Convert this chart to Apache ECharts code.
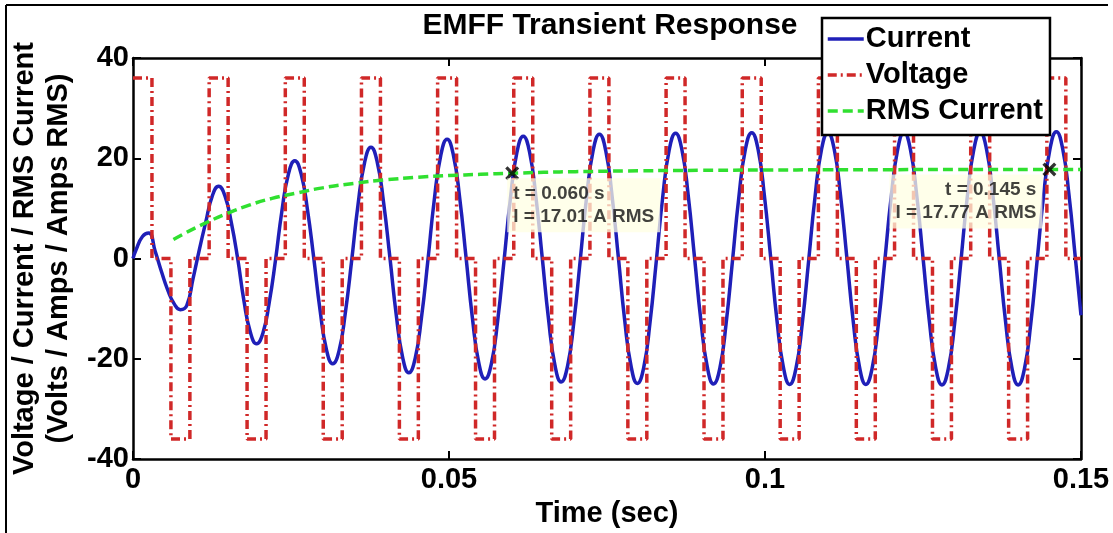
<!DOCTYPE html>
<html><head><meta charset="utf-8">
<script src="https://cdn.jsdelivr.net/npm/echarts@6/dist/echarts.min.js"></script>
<style>html,body{margin:0;padding:0;background:#fff}#c{width:1113px;height:533px}</style>
</head><body><div id="c"></div><script>
// ---- data ----
const currentT = [
0, 0.0005, 0.0015, 0.0025, 0.0035, 0.0045, 0.0055, 0.0065, 0.0075, 0.0085, 0.0095, 0.0105, 0.0115,
0.01255, 0.01355, 0.01455, 0.01555, 0.01655, 0.01755, 0.01855, 0.01955, 0.02055, 0.02155, 0.02255, 0.02355,
0.0246, 0.0256, 0.0266, 0.0276, 0.0286, 0.0296, 0.0306, 0.0316, 0.0326, 0.0336, 0.0346, 0.0356,
0.03665, 0.03765, 0.03865, 0.03965, 0.04065, 0.04165, 0.04265, 0.04365, 0.04465, 0.04565, 0.04665, 0.04765,
0.0487, 0.0497, 0.0507, 0.0517, 0.0527, 0.0537, 0.0547, 0.0557, 0.0567, 0.0577, 0.0587, 0.0597,
0.06075, 0.06175, 0.06275, 0.06375, 0.06475, 0.06575, 0.06675, 0.06775, 0.06875, 0.06975, 0.07075, 0.07175,
0.0728, 0.0738, 0.0748, 0.0758, 0.0768, 0.0778, 0.0788, 0.0798, 0.0808, 0.0818, 0.0828, 0.0838,
0.08485, 0.08585, 0.08685, 0.08785, 0.08885, 0.08985, 0.09085, 0.09185, 0.09285, 0.09385, 0.09485, 0.09585,
0.0969, 0.0979, 0.0989, 0.0999, 0.1009, 0.1019, 0.1029, 0.1039, 0.1049, 0.1059, 0.1069, 0.1079,
0.10895, 0.10995, 0.11095, 0.11195, 0.11295, 0.11395, 0.11495, 0.11595, 0.11695, 0.11795, 0.11895, 0.11995,
0.121, 0.122, 0.123, 0.124, 0.125, 0.126, 0.127, 0.128, 0.129, 0.130, 0.131, 0.132,
0.13305, 0.13405, 0.13505, 0.13605, 0.13705, 0.13805, 0.13905, 0.14005, 0.14105, 0.14205, 0.14305, 0.14405,
0.1451, 0.1461, 0.1471, 0.1481, 0.1491, 0.15];
const currentI = [
0, 1.8, 4.4, 5.1, 1.5, -2.6, -6.3, -9.0, -10.2, -9.4, -4.0, 1.8, 7.2,
12.5, 14.4, 12.5, 7.2, 0.1, -8.4, -14.6, -17.0, -14.9, -8.8, -0.3, 9.4,
16.9, 19.5, 16.9, 9.8, 0.1, -10.3, -18.1, -21.0, -18.4, -10.8, -0.4, 10.7,
19.2, 22.2, 19.2, 11.2, 0.2, -11.2, -19.6, -22.8, -19.9, -11.7, -0.5, 11.5,
20.6, 23.8, 20.6, 12.0, 0.2, -11.8, -20.7, -24.0, -21.0, -12.4, -0.5, 11.8,
21.2, 24.4, 21.2, 12.3, 0.2, -12.1, -21.2, -24.6, -21.5, -12.7, -0.5, 12.0,
21.5, 24.8, 21.5, 12.5, 0.2, -12.3, -21.4, -24.9, -21.8, -12.8, -0.5, 12.1,
21.7, 25.0, 21.7, 12.6, 0.2, -12.3, -21.5, -25.0, -21.9, -12.9, -0.5, 12.1,
21.8, 25.1, 21.8, 12.6, 0.2, -12.4, -21.6, -25.1, -21.9, -12.9, -0.5, 12.1,
21.8, 25.1, 21.8, 12.6, 0.2, -12.4, -21.6, -25.1, -21.9, -12.9, -0.5, 12.1,
21.8, 25.2, 21.8, 12.7, 0.2, -12.4, -21.7, -25.2, -22.0, -13.0, -0.5, 12.2,
21.8, 25.2, 21.8, 12.7, 0.2, -12.4, -21.7, -25.2, -22.0, -13.0, -0.5, 12.2,
21.9, 25.3, 21.9, 12.7, 0.2, -11.3];

const voltT = [
0, 0.003, 0.006, 0.009,
0.01205, 0.01505, 0.01805, 0.02105,
0.0241, 0.0271, 0.0301, 0.0331,
0.03615, 0.03915, 0.04215, 0.04515,
0.0482, 0.0512, 0.0542, 0.0572,
0.06025, 0.06325, 0.06625, 0.06925,
0.0723, 0.0753, 0.0783, 0.0813,
0.08435, 0.08735, 0.09035, 0.09335,
0.0964, 0.0994, 0.1024, 0.1054,
0.10845, 0.11145, 0.11445, 0.11745,
0.1205, 0.1235, 0.1265, 0.1295,
0.13255, 0.13555, 0.13855, 0.14155,
0.1446, 0.1476, 0.15];
const voltV = [
36, 0, -36, 0,
36, 0, -36, 0,
36, 0, -36, 0,
36, 0, -36, 0,
36, 0, -36, 0,
36, 0, -36, 0,
36, 0, -36, 0,
36, 0, -36, 0,
36, 0, -36, 0,
36, 0, -36, 0,
36, 0, -36, 0,
36, 0, -36, 0,
36, 0, 0];

const rmsT = [0.0064, 0.008, 0.010, 0.012, 0.0145, 0.0185, 0.022, 0.026, 0.030, 0.035, 0.040, 0.045, 0.050, 0.055, 0.060, 0.065, 0.070, 0.080, 0.090, 0.100, 0.110, 0.120, 0.130, 0.145, 0.150];
const rmsI = [3.8, 4.9, 6.2, 7.4, 8.8, 10.7, 12.0, 13.1, 14.1, 15.0, 15.7, 16.2, 16.55, 16.8, 17.01, 17.2, 17.33, 17.5, 17.6, 17.66, 17.7, 17.73, 17.75, 17.77, 17.78];

const tipT = [0.060, 0.145];
const tipI = [17.01, 17.77];

const seriesNames = ['Current', 'Voltage', 'RMS Current'];
const titleText = 'EMFF Transient Response';
const xName = 'Time (sec)';
const yName = 'Voltage / Current / RMS Current\n(Volts / Amps / Amps RMS)';

// ---- chart ----
const FONT = '"Liberation Sans", Arial, Helvetica, sans-serif';
const zip = (a, b) => a.map((x, i) => [x, b[i]]);
const chart = echarts.init(document.getElementById('c'), null, {renderer: 'canvas'});
const axLine = {show: true, onZero: false, lineStyle: {color: '#000', width: 2.5}};
const tick = {show: true, inside: true, length: 8, lineStyle: {color: '#000', width: 2}};
const lblFont = {fontFamily: FONT, fontSize: 29, fontWeight: 'bold', color: '#000'};
const XPATH = 'path://M2,0 L6,4 L10,0 L12,2 L8,6 L12,10 L10,12 L6,8 L2,12 L0,10 L4,6 L0,2 Z';
const tipLabel = {
  show: true,
  formatter: p => 't = ' + p.value[0].toFixed(3) + ' s\nI = ' + p.value[1].toFixed(2) + ' A RMS',
  fontFamily: FONT, fontSize: 19, fontWeight: 'bold', color: '#111', lineHeight: 23,
  backgroundColor: 'rgba(255,255,226,0.92)', padding: [4, 6, 4, 6],
  verticalAlign: 'top'
};
const BLUE = '#1f1fb8', RED = '#d02828', GREEN = '#30e030';

const option = {
  animation: false,
  backgroundColor: '#fff',
  title: {text: titleText, left: 605, top: 6, textAlign: 'center',
    textStyle: {fontFamily: FONT, fontSize: 30, fontWeight: 'bold', color: '#000'}},
  legend: {
    orient: 'vertical', left: 822, top: 18, data: seriesNames,
    backgroundColor: '#fff', borderColor: '#000', borderWidth: 2.5, borderRadius: 0,
    padding: [5, 7, 8, 4], itemWidth: 36, itemHeight: 14, itemGap: 4, z: 10,
    itemStyle: {color: 'rgba(0,0,0,0)', borderWidth: 0, opacity: 0},
    lineStyle: {width: 3.5},
    textStyle: {fontFamily: FONT, fontSize: 29, fontWeight: 'bold', color: '#000', lineHeight: 32, padding: [0, 0, 0, -3]}
  },
  grid: {left: 133, right: 32, top: 58, bottom: 69, containLabel: false},
  xAxis: [
    {type: 'value', min: 0, max: 0.15, interval: 0.05, position: 'bottom',
     axisLine: axLine, axisTick: tick, splitLine: {show: false},
     axisLabel: Object.assign({margin: 6, formatter: v => String(+v.toFixed(2))}, lblFont),
     name: xName, nameLocation: 'middle', nameGap: 36, nameTextStyle: lblFont},
    {type: 'value', min: 0, max: 0.15, interval: 0.05, position: 'top',
     axisLine: axLine, axisTick: tick, splitLine: {show: false}, axisLabel: {show: false}}
  ],
  yAxis: [
    {type: 'value', min: -40, max: 40, interval: 20, position: 'left',
     axisLine: axLine, axisTick: tick, splitLine: {show: false},
     axisLabel: Object.assign({margin: 4}, lblFont),
     name: yName, nameLocation: 'middle', nameGap: 57,
     nameTextStyle: Object.assign({lineHeight: 34}, lblFont)},
    {type: 'value', min: -40, max: 40, interval: 20, position: 'right',
     axisLine: axLine, axisTick: tick, splitLine: {show: false}, axisLabel: {show: false}}
  ],
  series: [
    {name: seriesNames[0], type: 'line', data: zip(currentT, currentI), smooth: 0.5,
     symbol: 'none', lineStyle: {color: BLUE, width: 3.5}, itemStyle: {color: BLUE}},
    {name: seriesNames[1], type: 'line', step: 'end', data: zip(voltT, voltV),
     symbol: 'none', lineStyle: {color: RED, width: 3.5, type: [9, 4, 2, 4]}, itemStyle: {color: RED}},
    {name: seriesNames[2], type: 'line', data: zip(rmsT, rmsI), smooth: true,
     symbol: 'none', lineStyle: {color: GREEN, width: 3.5, type: [10, 5]}, itemStyle: {color: GREEN}},
    {name: 'tips', type: 'scatter', symbol: XPATH, symbolSize: 14, z: 6,
     itemStyle: {color: '#000'},
     data: tipT.map((t, i) => ({
       value: [t, tipI[i]],
       label: Object.assign({}, tipLabel, i === 0 ? {position: [2, 12], align: 'left'} : {position: [0, 12], align: 'right'})
     }))}
  ],
  graphic: [
    {type: 'line', shape: {x1: 6, y1: 5, x2: 6, y2: 533}, style: {stroke: '#000', lineWidth: 2}, silent: true},
    {type: 'line', shape: {x1: 6, y1: 5, x2: 1108, y2: 5}, style: {stroke: '#000', lineWidth: 2}, silent: true}
  ]
};
chart.setOption(option);
</script></body></html>
